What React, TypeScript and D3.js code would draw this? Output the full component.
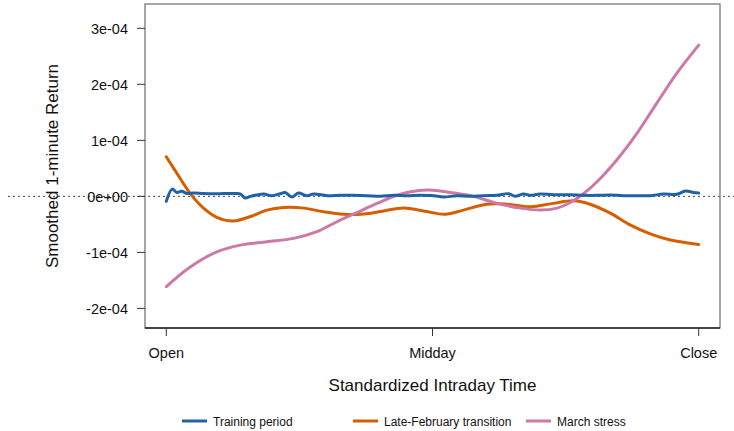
import React from "react";
import * as d3 from "d3";

const blueT = [0, 0.011, 0.02, 0.029, 0.039, 0.051, 0.07, 0.089, 0.108, 0.126, 0.139, 0.148, 0.158, 0.17, 0.183, 0.198, 0.214, 0.223, 0.236, 0.248, 0.264, 0.277, 0.302, 0.327, 0.352, 0.377, 0.402, 0.427, 0.452, 0.477, 0.502, 0.521, 0.546, 0.571, 0.596, 0.621, 0.643, 0.655, 0.671, 0.684, 0.702, 0.727, 0.759, 0.784, 0.809, 0.834, 0.859, 0.884, 0.909, 0.934, 0.959, 0.975, 0.99, 1.0];
const blueV = [-9e-6, 1.3e-5, 7e-6, 9e-6, 5e-6, 6e-6, 5e-6, 4.5e-6, 5e-6, 5e-6, 4.5e-6, -3e-6, 0, 2.5e-6, 4e-6, 1.2e-6, 4.8e-6, 7e-6, -1.2e-6, 6e-6, 1.2e-6, 4.2e-6, 1.2e-6, 1.8e-6, 1.8e-6, 1.2e-6, 0, 1.8e-6, 1.2e-6, 1.8e-6, 1.2e-6, -1.2e-6, 1.2e-6, 0, 1.2e-6, 1.8e-6, 4.8e-6, 0, 4.2e-6, 1.8e-6, 4.2e-6, 3e-6, 3e-6, 1.8e-6, 1.8e-6, 2.4e-6, 1.2e-6, 1.2e-6, 1.2e-6, 4.2e-6, 3.6e-6, 9.5e-6, 7e-6, 6e-6];

const orangeT = [0, 0.02, 0.045, 0.07, 0.095, 0.126, 0.158, 0.189, 0.22, 0.258, 0.295, 0.333, 0.371, 0.408, 0.446, 0.483, 0.524, 0.558, 0.602, 0.64, 0.684, 0.727, 0.765, 0.796, 0.834, 0.871, 0.909, 0.947, 1.0];
const orangeV = [7.07e-5, 4.1e-5, 0.5e-5, -2.1e-5, -3.75e-5, -4.4e-5, -3.6e-5, -2.45e-5, -2.0e-5, -2.1e-5, -2.75e-5, -3.2e-5, -3.15e-5, -2.6e-5, -2.1e-5, -2.6e-5, -3.2e-5, -2.45e-5, -1.4e-5, -1.4e-5, -1.85e-5, -1.25e-5, -0.8e-5, -1.4e-5, -3.0e-5, -5.1e-5, -6.7e-5, -7.8e-5, -8.6e-5];

const pinkT = [0, 0.045, 0.095, 0.139, 0.189, 0.239, 0.283, 0.321, 0.358, 0.396, 0.433, 0.471, 0.501, 0.533, 0.577, 0.621, 0.665, 0.702, 0.734, 0.759, 0.784, 0.809, 0.846, 0.884, 0.921, 0.959, 1.0];
const pinkV = [-1.61e-4, -1.26e-4, -0.99e-4, -0.87e-4, -0.81e-4, -0.75e-4, -0.63e-4, -0.45e-4, -0.29e-4, -0.125e-4, 0.02e-4, 0.10e-4, 0.11e-4, 0.07e-4, 0, -0.125e-4, -0.21e-4, -0.245e-4, -0.21e-4, -0.11e-4, 0.05e-4, 0.26e-4, 0.65e-4, 1.125e-4, 1.66e-4, 2.2e-4, 2.70e-4];

const yTicks = [-2e-4, -1e-4, 0, 1e-4, 2e-4, 3e-4];
const yTickLabels = ["-2e-04", "-1e-04", "0e+00", "1e-04", "2e-04", "3e-04"];
const xTicks = [0, 0.5, 1];
const xTickLabels = ["Open", "Midday", "Close"];

const seriesNames = ["Training period", "Late-February transition", "March stress"];
const seriesColors = ["#1F63A6", "#D55E00", "#CC79A7"];

const W = 734, H = 431;
const left = 145, right = 720, top = 4, bottom = 328;
const FONT = "'Liberation Sans', Arial, Helvetica, sans-serif";

export default function App() {
  const x = d3.scaleLinear().domain([-0.04, 1.04]).range([left, right]);
  const y = d3.scaleLinear().domain([-2.35e-4, 3.434e-4]).range([bottom, top]);
  const line = d3
    .line<[number, number]>()
    .x((d) => x(d[0]))
    .y((d) => y(d[1]))
    .curve(d3.curveCatmullRom.alpha(0.5));

  const series = [
    blueT.map((t, i) => [t, blueV[i]] as [number, number]),
    orangeT.map((t, i) => [t, orangeV[i]] as [number, number]),
    pinkT.map((t, i) => [t, pinkV[i]] as [number, number]),
  ];
  const drawOrder = [1, 2, 0];

  const legendX = [182, 353, 526];

  return (
    <svg
      width={W}
      height={H}
      style={{ position: "fixed", left: 0, top: 0, background: "#fff" }}
      fontFamily={FONT}
    >
      <rect x={0} y={0} width={W} height={H} fill="#fff" />
      {/* zero reference */}
      <line x1={8} x2={W} y1={y(0)} y2={y(0)} stroke="#444" strokeWidth={1} strokeDasharray="2,3" />
      {/* box */}
      <rect x={left} y={top} width={right - left} height={bottom - top} fill="none" stroke="#777" strokeWidth={1.3} />
      <line x1={left} x2={right} y1={bottom} y2={bottom} stroke="#222" strokeWidth={1.3} />
      {/* y axis ticks */}
      {yTicks.map((t, i) => (
        <g key={i}>
          <line x1={left - 8} x2={left} y1={y(t)} y2={y(t)} stroke="#333" strokeWidth={1} />
          <text x={128} y={y(t)} dy="0.36em" textAnchor="end" fontSize={14.5} fill="#111">
            {yTickLabels[i]}
          </text>
        </g>
      ))}
      {/* x axis ticks */}
      {xTicks.map((t, i) => (
        <g key={i}>
          <line x1={x(t)} x2={x(t)} y1={bottom} y2={bottom + 8} stroke="#333" strokeWidth={1} />
          <text x={x(t)} y={358} textAnchor="middle" fontSize={14.5} fill="#111">
            {xTickLabels[i]}
          </text>
        </g>
      ))}
      <text x={(left + right) / 2} y={391} textAnchor="middle" fontSize={17} fill="#111">
        Standardized Intraday Time
      </text>
      <text
        transform={`translate(58,${(top + bottom) / 2}) rotate(-90)`}
        textAnchor="middle"
        fontSize={17}
        fill="#111"
      >
        Smoothed 1-minute Return
      </text>
      {/* lines */}
      {drawOrder.map((k) => (
        <path
          key={k}
          d={line(series[k]) || ""}
          fill="none"
          stroke={seriesColors[k]}
          strokeWidth={3}
          strokeLinejoin="round"
          strokeLinecap="round"
        />
      ))}
      {/* legend */}
      {seriesNames.map((n, i) => (
        <g key={n}>
          <line x1={legendX[i]} x2={legendX[i] + 25} y1={421} y2={421} stroke={seriesColors[i]} strokeWidth={3} />
          <text x={legendX[i] + 31} y={425.5} fontSize={12} fill="#111">
            {n}
          </text>
        </g>
      ))}
    </svg>
  );
}
